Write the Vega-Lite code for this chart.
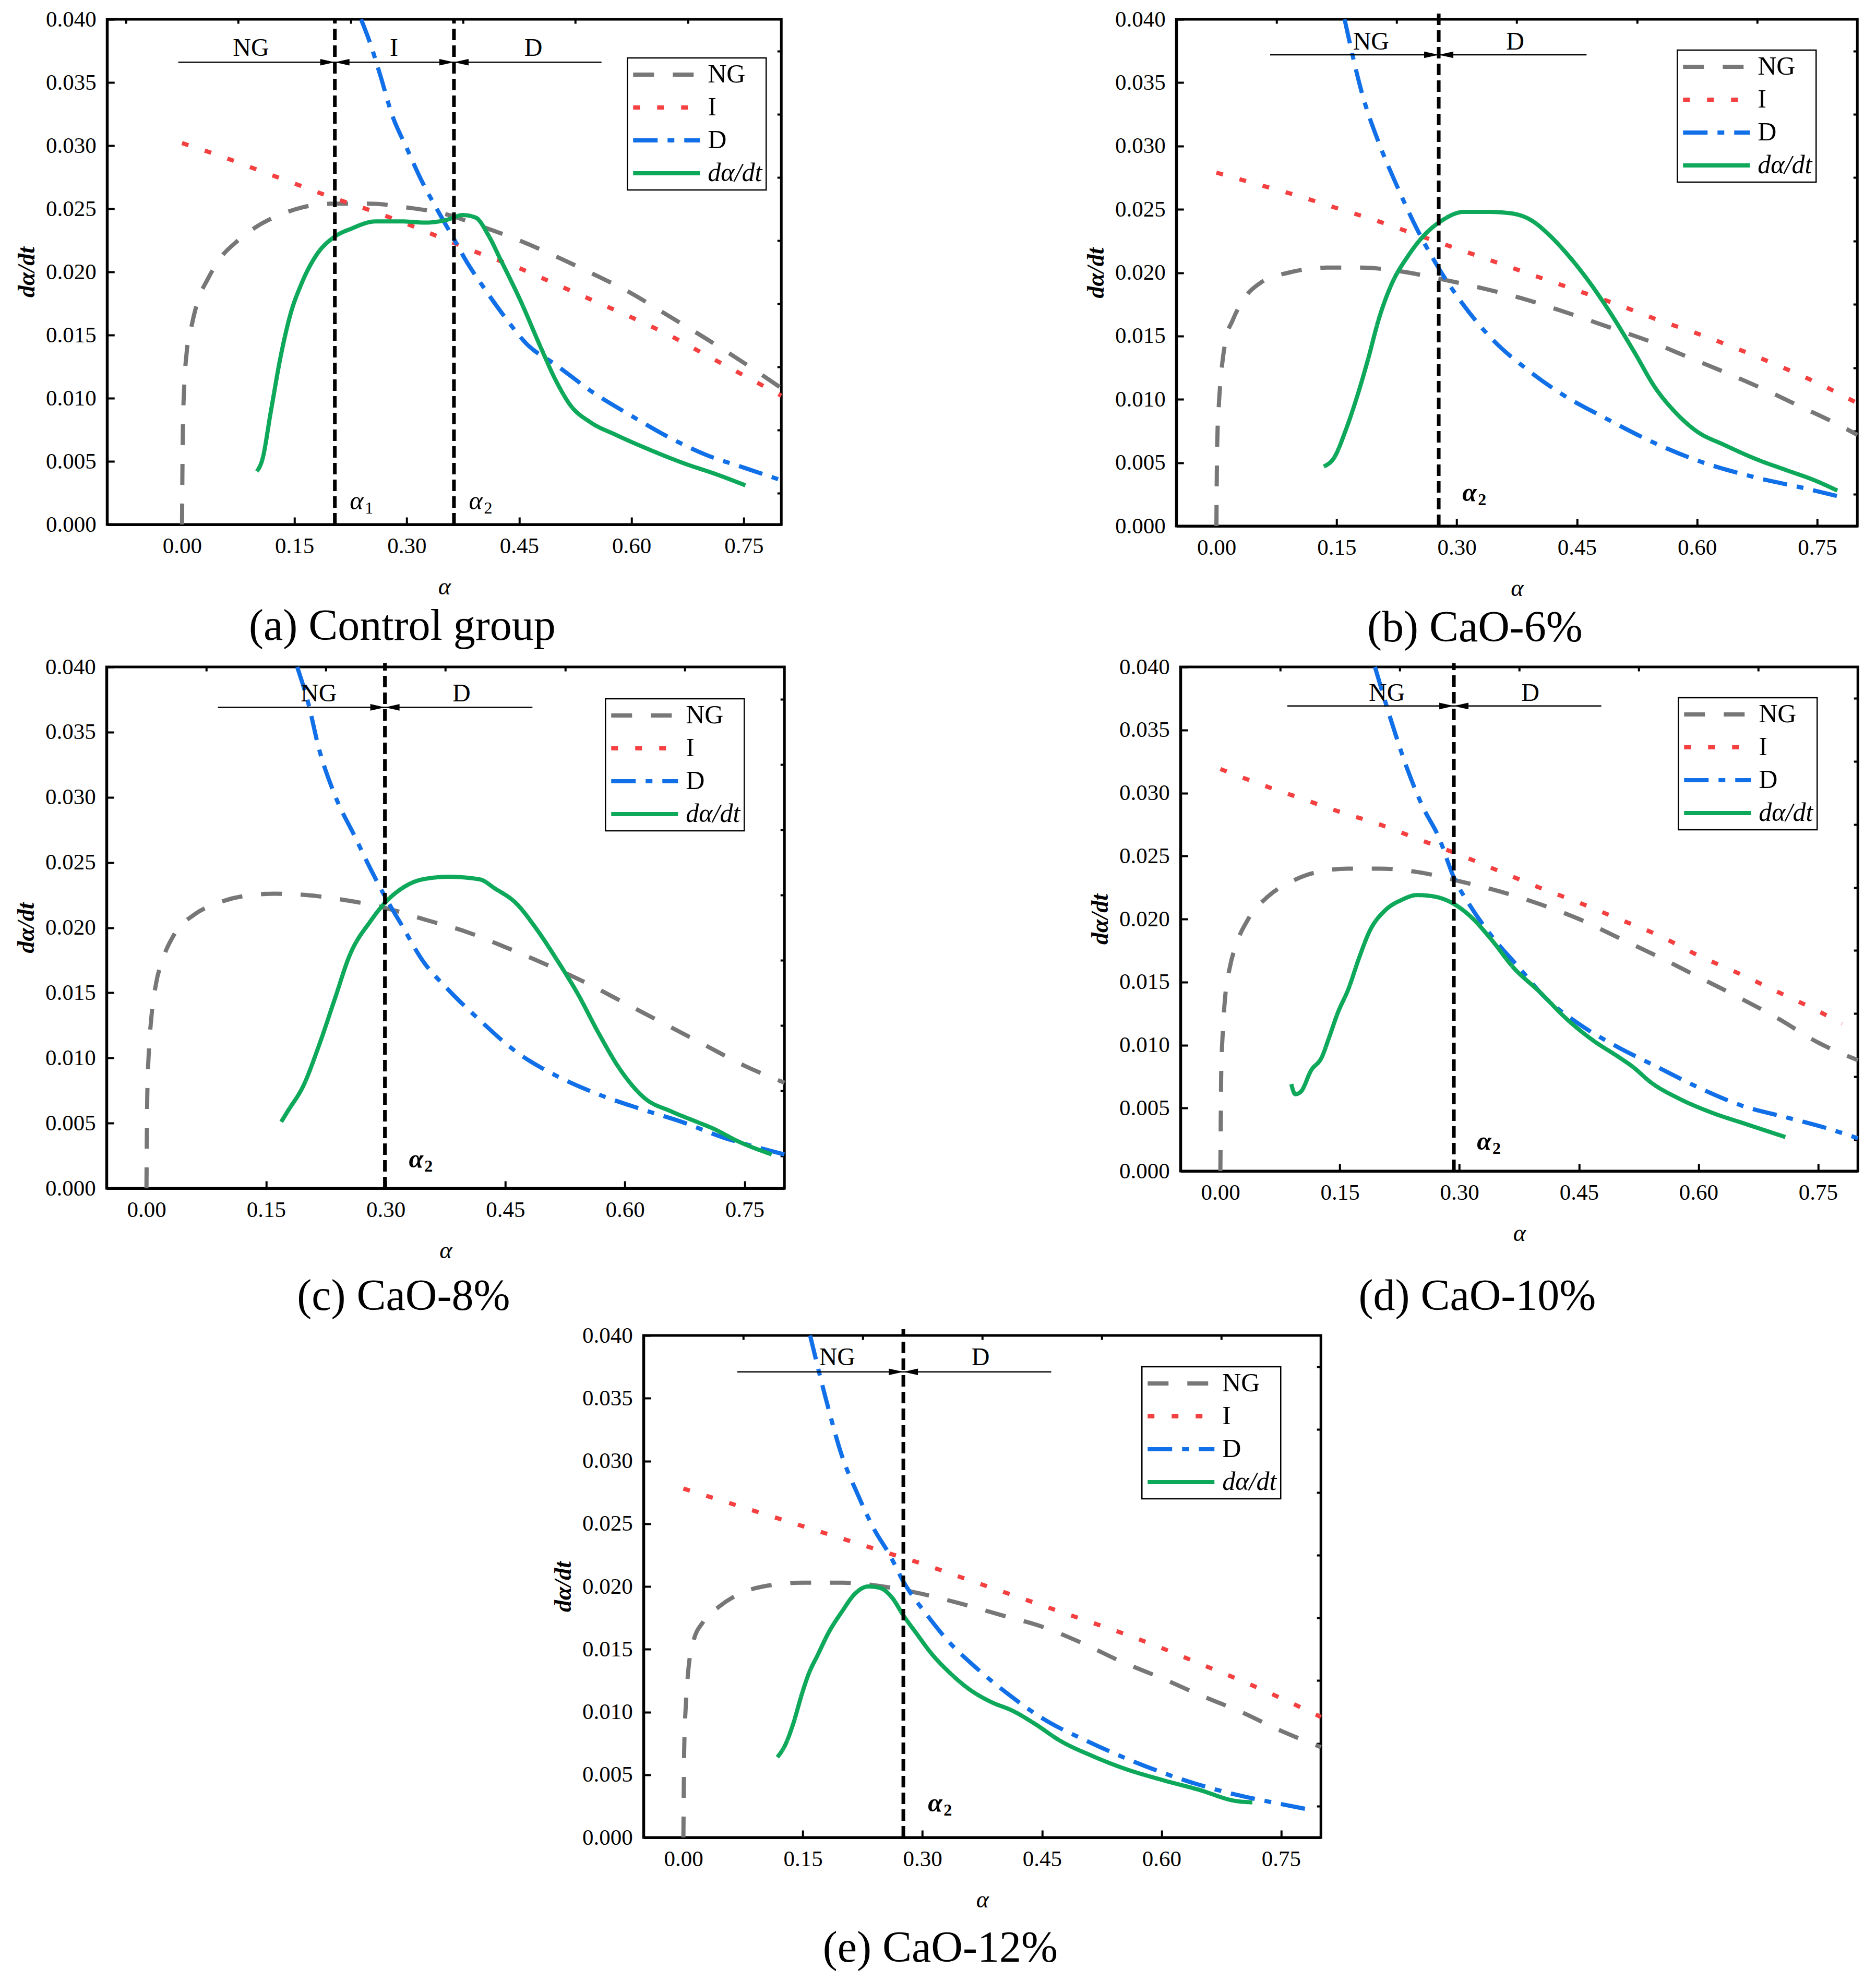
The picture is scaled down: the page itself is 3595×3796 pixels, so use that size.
{
"$schema": "https://vega.github.io/schema/vega-lite/v6.json",
"background": "white",
"padding": {"left": 25, "top": 13, "right": 5, "bottom": 5},
"datasets": {
"curves": [
{"p":"a","s":"NG","x":0,"y":0},{"p":"a","s":"NG","x":0.0005,"y":0.004},{"p":"a","s":"NG","x":0.001,"y":0.007},{"p":"a","s":"NG","x":0.003,"y":0.011},{"p":"a","s":"NG","x":0.006,"y":0.0135},{"p":"a","s":"NG","x":0.012,"y":0.0155},{"p":"a","s":"NG","x":0.02,"y":0.0175},{"p":"a","s":"NG","x":0.035,"y":0.0195},{"p":"a","s":"NG","x":0.05,"y":0.021},{"p":"a","s":"NG","x":0.075,"y":0.0225},{"p":"a","s":"NG","x":0.1,"y":0.0236},{"p":"a","s":"NG","x":0.13,"y":0.0245},{"p":"a","s":"NG","x":0.16,"y":0.0251},{"p":"a","s":"NG","x":0.2,"y":0.0254},{"p":"a","s":"NG","x":0.25,"y":0.0254},{"p":"a","s":"NG","x":0.3,"y":0.0251},{"p":"a","s":"NG","x":0.35,"y":0.0246},{"p":"a","s":"NG","x":0.4,"y":0.0236},{"p":"a","s":"NG","x":0.45,"y":0.0225},{"p":"a","s":"NG","x":0.5,"y":0.0212},{"p":"a","s":"NG","x":0.55,"y":0.0198},{"p":"a","s":"NG","x":0.6,"y":0.0183},{"p":"a","s":"NG","x":0.65,"y":0.0165},{"p":"a","s":"NG","x":0.7,"y":0.0147},{"p":"a","s":"NG","x":0.75,"y":0.0128},{"p":"a","s":"NG","x":0.8,"y":0.0108},
{"p":"a","s":"I","x":0,"y":0.0302},{"p":"a","s":"I","x":0.05,"y":0.0292},{"p":"a","s":"I","x":0.1,"y":0.0281},{"p":"a","s":"I","x":0.15,"y":0.027},{"p":"a","s":"I","x":0.2,"y":0.0259},{"p":"a","s":"I","x":0.25,"y":0.0249},{"p":"a","s":"I","x":0.3,"y":0.0238},{"p":"a","s":"I","x":0.35,"y":0.0226},{"p":"a","s":"I","x":0.4,"y":0.0214},{"p":"a","s":"I","x":0.45,"y":0.0203},{"p":"a","s":"I","x":0.5,"y":0.019},{"p":"a","s":"I","x":0.55,"y":0.0177},{"p":"a","s":"I","x":0.6,"y":0.0164},{"p":"a","s":"I","x":0.65,"y":0.015},{"p":"a","s":"I","x":0.7,"y":0.0134},{"p":"a","s":"I","x":0.75,"y":0.0118},{"p":"a","s":"I","x":0.8,"y":0.0102},
{"p":"a","s":"D","x":0.239,"y":0.04},{"p":"a","s":"D","x":0.25,"y":0.0383},{"p":"a","s":"D","x":0.265,"y":0.0355},{"p":"a","s":"D","x":0.28,"y":0.0325},{"p":"a","s":"D","x":0.3,"y":0.0298},{"p":"a","s":"D","x":0.32,"y":0.0272},{"p":"a","s":"D","x":0.34,"y":0.025},{"p":"a","s":"D","x":0.363,"y":0.0226},{"p":"a","s":"D","x":0.38,"y":0.0208},{"p":"a","s":"D","x":0.4,"y":0.019},{"p":"a","s":"D","x":0.43,"y":0.0165},{"p":"a","s":"D","x":0.46,"y":0.0143},{"p":"a","s":"D","x":0.5,"y":0.0126},{"p":"a","s":"D","x":0.55,"y":0.0104},{"p":"a","s":"D","x":0.6,"y":0.0086},{"p":"a","s":"D","x":0.65,"y":0.0069},{"p":"a","s":"D","x":0.7,"y":0.0055},{"p":"a","s":"D","x":0.75,"y":0.0045},{"p":"a","s":"D","x":0.8,"y":0.0035},
{"p":"a","s":"dα/dt","x":0.1,"y":0.0042},{"p":"a","s":"dα/dt","x":0.107,"y":0.0051},{"p":"a","s":"dα/dt","x":0.119,"y":0.0091},{"p":"a","s":"dα/dt","x":0.132,"y":0.0134},{"p":"a","s":"dα/dt","x":0.145,"y":0.0167},{"p":"a","s":"dα/dt","x":0.159,"y":0.019},{"p":"a","s":"dα/dt","x":0.179,"y":0.0213},{"p":"a","s":"dα/dt","x":0.204,"y":0.0228},{"p":"a","s":"dα/dt","x":0.225,"y":0.0234},{"p":"a","s":"dα/dt","x":0.259,"y":0.024},{"p":"a","s":"dα/dt","x":0.292,"y":0.024},{"p":"a","s":"dα/dt","x":0.325,"y":0.0239},{"p":"a","s":"dα/dt","x":0.352,"y":0.0241},{"p":"a","s":"dα/dt","x":0.375,"y":0.0245},{"p":"a","s":"dα/dt","x":0.392,"y":0.0243},{"p":"a","s":"dα/dt","x":0.409,"y":0.0229},{"p":"a","s":"dα/dt","x":0.425,"y":0.021},{"p":"a","s":"dα/dt","x":0.452,"y":0.0177},{"p":"a","s":"dα/dt","x":0.479,"y":0.014},{"p":"a","s":"dα/dt","x":0.499,"y":0.0114},{"p":"a","s":"dα/dt","x":0.519,"y":0.0094},{"p":"a","s":"dα/dt","x":0.545,"y":0.0081},{"p":"a","s":"dα/dt","x":0.579,"y":0.0071},{"p":"a","s":"dα/dt","x":0.625,"y":0.0059},{"p":"a","s":"dα/dt","x":0.672,"y":0.0048},{"p":"a","s":"dα/dt","x":0.712,"y":0.004},{"p":"a","s":"dα/dt","x":0.752,"y":0.0031},

{"p":"b","s":"NG","x":0,"y":0},{"p":"b","s":"NG","x":0.0005,"y":0.004},{"p":"b","s":"NG","x":0.001,"y":0.0065},{"p":"b","s":"NG","x":0.003,"y":0.0095},{"p":"b","s":"NG","x":0.006,"y":0.012},{"p":"b","s":"NG","x":0.012,"y":0.0148},{"p":"b","s":"NG","x":0.02,"y":0.0162},{"p":"b","s":"NG","x":0.035,"y":0.018},{"p":"b","s":"NG","x":0.055,"y":0.0192},{"p":"b","s":"NG","x":0.09,"y":0.02},{"p":"b","s":"NG","x":0.14,"y":0.0204},{"p":"b","s":"NG","x":0.18,"y":0.0204},{"p":"b","s":"NG","x":0.23,"y":0.0201},{"p":"b","s":"NG","x":0.28,"y":0.0195},{"p":"b","s":"NG","x":0.33,"y":0.0188},{"p":"b","s":"NG","x":0.38,"y":0.018},{"p":"b","s":"NG","x":0.43,"y":0.017},{"p":"b","s":"NG","x":0.49,"y":0.0157},{"p":"b","s":"NG","x":0.54,"y":0.0146},{"p":"b","s":"NG","x":0.59,"y":0.0133},{"p":"b","s":"NG","x":0.64,"y":0.012},{"p":"b","s":"NG","x":0.69,"y":0.0106},{"p":"b","s":"NG","x":0.73,"y":0.0094},{"p":"b","s":"NG","x":0.77,"y":0.0082},{"p":"b","s":"NG","x":0.8,"y":0.0072},
{"p":"b","s":"I","x":0,"y":0.0279},{"p":"b","s":"I","x":0.05,"y":0.027},{"p":"b","s":"I","x":0.1,"y":0.0261},{"p":"b","s":"I","x":0.15,"y":0.0251},{"p":"b","s":"I","x":0.2,"y":0.0241},{"p":"b","s":"I","x":0.25,"y":0.023},{"p":"b","s":"I","x":0.3,"y":0.0219},{"p":"b","s":"I","x":0.35,"y":0.0208},{"p":"b","s":"I","x":0.4,"y":0.0197},{"p":"b","s":"I","x":0.45,"y":0.0186},{"p":"b","s":"I","x":0.5,"y":0.0175},{"p":"b","s":"I","x":0.55,"y":0.0163},{"p":"b","s":"I","x":0.6,"y":0.0152},{"p":"b","s":"I","x":0.65,"y":0.014},{"p":"b","s":"I","x":0.7,"y":0.0127},{"p":"b","s":"I","x":0.75,"y":0.0113},{"p":"b","s":"I","x":0.8,"y":0.0097},
{"p":"b","s":"D","x":0.16,"y":0.04},{"p":"b","s":"D","x":0.182,"y":0.0341},{"p":"b","s":"D","x":0.203,"y":0.0302},{"p":"b","s":"D","x":0.225,"y":0.0269},{"p":"b","s":"D","x":0.246,"y":0.024},{"p":"b","s":"D","x":0.278,"y":0.0203},{"p":"b","s":"D","x":0.309,"y":0.0174},{"p":"b","s":"D","x":0.345,"y":0.0147},{"p":"b","s":"D","x":0.387,"y":0.0124},{"p":"b","s":"D","x":0.429,"y":0.0105},{"p":"b","s":"D","x":0.486,"y":0.0085},{"p":"b","s":"D","x":0.542,"y":0.0067},{"p":"b","s":"D","x":0.599,"y":0.0052},{"p":"b","s":"D","x":0.669,"y":0.0039},{"p":"b","s":"D","x":0.74,"y":0.0029},{"p":"b","s":"D","x":0.786,"y":0.0022},
{"p":"b","s":"dα/dt","x":0.134,"y":0.0047},{"p":"b","s":"dα/dt","x":0.147,"y":0.0054},{"p":"b","s":"dα/dt","x":0.161,"y":0.0075},{"p":"b","s":"dα/dt","x":0.175,"y":0.0101},{"p":"b","s":"dα/dt","x":0.189,"y":0.0131},{"p":"b","s":"dα/dt","x":0.203,"y":0.0164},{"p":"b","s":"dα/dt","x":0.218,"y":0.019},{"p":"b","s":"dα/dt","x":0.239,"y":0.0213},{"p":"b","s":"dα/dt","x":0.26,"y":0.023},{"p":"b","s":"dα/dt","x":0.281,"y":0.0241},{"p":"b","s":"dα/dt","x":0.309,"y":0.0248},{"p":"b","s":"dα/dt","x":0.338,"y":0.0248},{"p":"b","s":"dα/dt","x":0.366,"y":0.0247},{"p":"b","s":"dα/dt","x":0.394,"y":0.0241},{"p":"b","s":"dα/dt","x":0.415,"y":0.023},{"p":"b","s":"dα/dt","x":0.436,"y":0.0216},{"p":"b","s":"dα/dt","x":0.465,"y":0.0193},{"p":"b","s":"dα/dt","x":0.493,"y":0.0167},{"p":"b","s":"dα/dt","x":0.521,"y":0.0138},{"p":"b","s":"dα/dt","x":0.549,"y":0.0108},{"p":"b","s":"dα/dt","x":0.571,"y":0.0091},{"p":"b","s":"dα/dt","x":0.599,"y":0.0075},{"p":"b","s":"dα/dt","x":0.634,"y":0.0064},{"p":"b","s":"dα/dt","x":0.677,"y":0.0052},{"p":"b","s":"dα/dt","x":0.712,"y":0.0044},{"p":"b","s":"dα/dt","x":0.747,"y":0.0036},{"p":"b","s":"dα/dt","x":0.775,"y":0.0028},

{"p":"c","s":"NG","x":0,"y":0},{"p":"c","s":"NG","x":0.0005,"y":0.004},{"p":"c","s":"NG","x":0.001,"y":0.007},{"p":"c","s":"NG","x":0.003,"y":0.0105},{"p":"c","s":"NG","x":0.006,"y":0.013},{"p":"c","s":"NG","x":0.012,"y":0.0157},{"p":"c","s":"NG","x":0.02,"y":0.0175},{"p":"c","s":"NG","x":0.035,"y":0.0195},{"p":"c","s":"NG","x":0.06,"y":0.021},{"p":"c","s":"NG","x":0.09,"y":0.0219},{"p":"c","s":"NG","x":0.12,"y":0.0224},{"p":"c","s":"NG","x":0.16,"y":0.0226},{"p":"c","s":"NG","x":0.2,"y":0.0225},{"p":"c","s":"NG","x":0.25,"y":0.0221},{"p":"c","s":"NG","x":0.3,"y":0.0215},{"p":"c","s":"NG","x":0.35,"y":0.0206},{"p":"c","s":"NG","x":0.4,"y":0.0197},{"p":"c","s":"NG","x":0.45,"y":0.0185},{"p":"c","s":"NG","x":0.5,"y":0.0172},{"p":"c","s":"NG","x":0.55,"y":0.0158},{"p":"c","s":"NG","x":0.6,"y":0.0142},{"p":"c","s":"NG","x":0.65,"y":0.0126},{"p":"c","s":"NG","x":0.7,"y":0.011},{"p":"c","s":"NG","x":0.75,"y":0.0094},{"p":"c","s":"NG","x":0.8,"y":0.0081},
{"p":"c","s":"D","x":0.189,"y":0.04},{"p":"c","s":"D","x":0.203,"y":0.0372},{"p":"c","s":"D","x":0.216,"y":0.0338},{"p":"c","s":"D","x":0.236,"y":0.0302},{"p":"c","s":"D","x":0.262,"y":0.0269},{"p":"c","s":"D","x":0.281,"y":0.0245},{"p":"c","s":"D","x":0.299,"y":0.0224},{"p":"c","s":"D","x":0.32,"y":0.0202},{"p":"c","s":"D","x":0.346,"y":0.0175},{"p":"c","s":"D","x":0.379,"y":0.0152},{"p":"c","s":"D","x":0.418,"y":0.0129},{"p":"c","s":"D","x":0.463,"y":0.0105},{"p":"c","s":"D","x":0.515,"y":0.0086},{"p":"c","s":"D","x":0.567,"y":0.0072},{"p":"c","s":"D","x":0.619,"y":0.0061},{"p":"c","s":"D","x":0.671,"y":0.0051},{"p":"c","s":"D","x":0.723,"y":0.0039},{"p":"c","s":"D","x":0.781,"y":0.0029},{"p":"c","s":"D","x":0.8,"y":0.0026},
{"p":"c","s":"dα/dt","x":0.169,"y":0.0051},{"p":"c","s":"dα/dt","x":0.177,"y":0.0059},{"p":"c","s":"dα/dt","x":0.197,"y":0.0079},{"p":"c","s":"dα/dt","x":0.216,"y":0.0109},{"p":"c","s":"dα/dt","x":0.236,"y":0.0145},{"p":"c","s":"dα/dt","x":0.255,"y":0.0179},{"p":"c","s":"dα/dt","x":0.281,"y":0.0205},{"p":"c","s":"dα/dt","x":0.299,"y":0.0219},{"p":"c","s":"dα/dt","x":0.32,"y":0.023},{"p":"c","s":"dα/dt","x":0.346,"y":0.0237},{"p":"c","s":"dα/dt","x":0.379,"y":0.0239},{"p":"c","s":"dα/dt","x":0.418,"y":0.0237},{"p":"c","s":"dα/dt","x":0.437,"y":0.023},{"p":"c","s":"dα/dt","x":0.463,"y":0.0219},{"p":"c","s":"dα/dt","x":0.489,"y":0.0199},{"p":"c","s":"dα/dt","x":0.515,"y":0.0175},{"p":"c","s":"dα/dt","x":0.541,"y":0.0149},{"p":"c","s":"dα/dt","x":0.567,"y":0.0119},{"p":"c","s":"dα/dt","x":0.593,"y":0.0092},{"p":"c","s":"dα/dt","x":0.625,"y":0.0069},{"p":"c","s":"dα/dt","x":0.658,"y":0.0059},{"p":"c","s":"dα/dt","x":0.69,"y":0.0051},{"p":"c","s":"dα/dt","x":0.71,"y":0.0046},{"p":"c","s":"dα/dt","x":0.742,"y":0.0036},{"p":"c","s":"dα/dt","x":0.784,"y":0.0026},

{"p":"d","s":"NG","x":0,"y":0},{"p":"d","s":"NG","x":0.0005,"y":0.004},{"p":"d","s":"NG","x":0.001,"y":0.0075},{"p":"d","s":"NG","x":0.003,"y":0.011},{"p":"d","s":"NG","x":0.006,"y":0.0138},{"p":"d","s":"NG","x":0.012,"y":0.0162},{"p":"d","s":"NG","x":0.02,"y":0.018},{"p":"d","s":"NG","x":0.035,"y":0.02},{"p":"d","s":"NG","x":0.06,"y":0.0218},{"p":"d","s":"NG","x":0.09,"y":0.023},{"p":"d","s":"NG","x":0.12,"y":0.0237},{"p":"d","s":"NG","x":0.16,"y":0.024},{"p":"d","s":"NG","x":0.2,"y":0.024},{"p":"d","s":"NG","x":0.25,"y":0.0237},{"p":"d","s":"NG","x":0.3,"y":0.023},{"p":"d","s":"NG","x":0.35,"y":0.0222},{"p":"d","s":"NG","x":0.4,"y":0.0212},{"p":"d","s":"NG","x":0.45,"y":0.02},{"p":"d","s":"NG","x":0.5,"y":0.0185},{"p":"d","s":"NG","x":0.55,"y":0.017},{"p":"d","s":"NG","x":0.6,"y":0.0154},{"p":"d","s":"NG","x":0.65,"y":0.0138},{"p":"d","s":"NG","x":0.7,"y":0.0121},{"p":"d","s":"NG","x":0.75,"y":0.0102},{"p":"d","s":"NG","x":0.8,"y":0.0088},
{"p":"d","s":"I","x":0,"y":0.0319},{"p":"d","s":"I","x":0.05,"y":0.0307},{"p":"d","s":"I","x":0.1,"y":0.0296},{"p":"d","s":"I","x":0.15,"y":0.0285},{"p":"d","s":"I","x":0.2,"y":0.0275},{"p":"d","s":"I","x":0.25,"y":0.0263},{"p":"d","s":"I","x":0.3,"y":0.0251},{"p":"d","s":"I","x":0.35,"y":0.0238},{"p":"d","s":"I","x":0.4,"y":0.0225},{"p":"d","s":"I","x":0.45,"y":0.0213},{"p":"d","s":"I","x":0.5,"y":0.02},{"p":"d","s":"I","x":0.55,"y":0.0187},{"p":"d","s":"I","x":0.6,"y":0.0171},{"p":"d","s":"I","x":0.65,"y":0.0157},{"p":"d","s":"I","x":0.7,"y":0.0142},{"p":"d","s":"I","x":0.75,"y":0.0127},{"p":"d","s":"I","x":0.78,"y":0.0117},
{"p":"d","s":"D","x":0.194,"y":0.04},{"p":"d","s":"D","x":0.214,"y":0.0358},{"p":"d","s":"D","x":0.234,"y":0.032},{"p":"d","s":"D","x":0.254,"y":0.0289},{"p":"d","s":"D","x":0.274,"y":0.0265},{"p":"d","s":"D","x":0.293,"y":0.0233},{"p":"d","s":"D","x":0.314,"y":0.021},{"p":"d","s":"D","x":0.341,"y":0.0186},{"p":"d","s":"D","x":0.374,"y":0.0162},{"p":"d","s":"D","x":0.407,"y":0.0138},{"p":"d","s":"D","x":0.447,"y":0.0118},{"p":"d","s":"D","x":0.494,"y":0.01},{"p":"d","s":"D","x":0.547,"y":0.0083},{"p":"d","s":"D","x":0.601,"y":0.0066},{"p":"d","s":"D","x":0.654,"y":0.0052},{"p":"d","s":"D","x":0.714,"y":0.0042},{"p":"d","s":"D","x":0.761,"y":0.0034},{"p":"d","s":"D","x":0.8,"y":0.0026},
{"p":"d","s":"dα/dt","x":0.089,"y":0.0069},{"p":"d","s":"dα/dt","x":0.094,"y":0.0061},{"p":"d","s":"dα/dt","x":0.101,"y":0.0063},{"p":"d","s":"dα/dt","x":0.114,"y":0.008},{"p":"d","s":"dα/dt","x":0.127,"y":0.009},{"p":"d","s":"dα/dt","x":0.137,"y":0.0107},{"p":"d","s":"dα/dt","x":0.147,"y":0.0125},{"p":"d","s":"dα/dt","x":0.161,"y":0.0145},{"p":"d","s":"dα/dt","x":0.174,"y":0.0169},{"p":"d","s":"dα/dt","x":0.187,"y":0.019},{"p":"d","s":"dα/dt","x":0.207,"y":0.0207},{"p":"d","s":"dα/dt","x":0.227,"y":0.0215},{"p":"d","s":"dα/dt","x":0.247,"y":0.0219},{"p":"d","s":"dα/dt","x":0.267,"y":0.0218},{"p":"d","s":"dα/dt","x":0.293,"y":0.0212},{"p":"d","s":"dα/dt","x":0.314,"y":0.0202},{"p":"d","s":"dα/dt","x":0.341,"y":0.0183},{"p":"d","s":"dα/dt","x":0.367,"y":0.0162},{"p":"d","s":"dα/dt","x":0.401,"y":0.0142},{"p":"d","s":"dα/dt","x":0.434,"y":0.0121},{"p":"d","s":"dα/dt","x":0.467,"y":0.0104},{"p":"d","s":"dα/dt","x":0.501,"y":0.009},{"p":"d","s":"dα/dt","x":0.517,"y":0.0083},{"p":"d","s":"dα/dt","x":0.541,"y":0.007},{"p":"d","s":"dα/dt","x":0.574,"y":0.0058},{"p":"d","s":"dα/dt","x":0.614,"y":0.0047},{"p":"d","s":"dα/dt","x":0.661,"y":0.0037},{"p":"d","s":"dα/dt","x":0.709,"y":0.0027},

{"p":"e","s":"NG","x":0,"y":0},{"p":"e","s":"NG","x":0.0005,"y":0.004},{"p":"e","s":"NG","x":0.001,"y":0.007},{"p":"e","s":"NG","x":0.003,"y":0.0105},{"p":"e","s":"NG","x":0.006,"y":0.0132},{"p":"e","s":"NG","x":0.012,"y":0.0155},{"p":"e","s":"NG","x":0.025,"y":0.0172},{"p":"e","s":"NG","x":0.045,"y":0.0184},{"p":"e","s":"NG","x":0.07,"y":0.0194},{"p":"e","s":"NG","x":0.1,"y":0.02},{"p":"e","s":"NG","x":0.15,"y":0.0203},{"p":"e","s":"NG","x":0.2,"y":0.0203},{"p":"e","s":"NG","x":0.25,"y":0.02},{"p":"e","s":"NG","x":0.3,"y":0.0194},{"p":"e","s":"NG","x":0.35,"y":0.0186},{"p":"e","s":"NG","x":0.4,"y":0.0177},{"p":"e","s":"NG","x":0.45,"y":0.0168},{"p":"e","s":"NG","x":0.5,"y":0.0155},{"p":"e","s":"NG","x":0.55,"y":0.014},{"p":"e","s":"NG","x":0.6,"y":0.0127},{"p":"e","s":"NG","x":0.65,"y":0.0113},{"p":"e","s":"NG","x":0.7,"y":0.01},{"p":"e","s":"NG","x":0.75,"y":0.0085},{"p":"e","s":"NG","x":0.8,"y":0.0072},
{"p":"e","s":"I","x":0,"y":0.0278},{"p":"e","s":"I","x":0.05,"y":0.0268},{"p":"e","s":"I","x":0.1,"y":0.0258},{"p":"e","s":"I","x":0.15,"y":0.0248},{"p":"e","s":"I","x":0.2,"y":0.0238},{"p":"e","s":"I","x":0.25,"y":0.0228},{"p":"e","s":"I","x":0.3,"y":0.0218},{"p":"e","s":"I","x":0.35,"y":0.0207},{"p":"e","s":"I","x":0.4,"y":0.0196},{"p":"e","s":"I","x":0.45,"y":0.0185},{"p":"e","s":"I","x":0.5,"y":0.0174},{"p":"e","s":"I","x":0.55,"y":0.0163},{"p":"e","s":"I","x":0.6,"y":0.0151},{"p":"e","s":"I","x":0.65,"y":0.0138},{"p":"e","s":"I","x":0.7,"y":0.0125},{"p":"e","s":"I","x":0.75,"y":0.0111},{"p":"e","s":"I","x":0.8,"y":0.0096},
{"p":"e","s":"D","x":0.159,"y":0.04},{"p":"e","s":"D","x":0.179,"y":0.0349},{"p":"e","s":"D","x":0.199,"y":0.0304},{"p":"e","s":"D","x":0.219,"y":0.0273},{"p":"e","s":"D","x":0.239,"y":0.0246},{"p":"e","s":"D","x":0.259,"y":0.0225},{"p":"e","s":"D","x":0.276,"y":0.0204},{"p":"e","s":"D","x":0.306,"y":0.0177},{"p":"e","s":"D","x":0.333,"y":0.0156},{"p":"e","s":"D","x":0.366,"y":0.0136},{"p":"e","s":"D","x":0.406,"y":0.0115},{"p":"e","s":"D","x":0.453,"y":0.0094},{"p":"e","s":"D","x":0.506,"y":0.0077},{"p":"e","s":"D","x":0.567,"y":0.006},{"p":"e","s":"D","x":0.627,"y":0.0046},{"p":"e","s":"D","x":0.694,"y":0.0034},{"p":"e","s":"D","x":0.747,"y":0.0027},{"p":"e","s":"D","x":0.787,"y":0.0022},
{"p":"e","s":"dα/dt","x":0.118,"y":0.0064},{"p":"e","s":"dα/dt","x":0.128,"y":0.0074},{"p":"e","s":"dα/dt","x":0.138,"y":0.0091},{"p":"e","s":"dα/dt","x":0.149,"y":0.0115},{"p":"e","s":"dα/dt","x":0.157,"y":0.013},{"p":"e","s":"dα/dt","x":0.169,"y":0.0146},{"p":"e","s":"dα/dt","x":0.182,"y":0.0163},{"p":"e","s":"dα/dt","x":0.199,"y":0.018},{"p":"e","s":"dα/dt","x":0.215,"y":0.0194},{"p":"e","s":"dα/dt","x":0.232,"y":0.02},{"p":"e","s":"dα/dt","x":0.246,"y":0.0199},{"p":"e","s":"dα/dt","x":0.262,"y":0.0191},{"p":"e","s":"dα/dt","x":0.276,"y":0.0177},{"p":"e","s":"dα/dt","x":0.292,"y":0.0163},{"p":"e","s":"dα/dt","x":0.312,"y":0.0146},{"p":"e","s":"dα/dt","x":0.333,"y":0.0132},{"p":"e","s":"dα/dt","x":0.359,"y":0.0118},{"p":"e","s":"dα/dt","x":0.386,"y":0.0108},{"p":"e","s":"dα/dt","x":0.413,"y":0.0101},{"p":"e","s":"dα/dt","x":0.44,"y":0.0091},{"p":"e","s":"dα/dt","x":0.473,"y":0.0077},{"p":"e","s":"dα/dt","x":0.513,"y":0.0065},{"p":"e","s":"dα/dt","x":0.553,"y":0.0055},{"p":"e","s":"dα/dt","x":0.6,"y":0.0046},{"p":"e","s":"dα/dt","x":0.647,"y":0.0038},{"p":"e","s":"dα/dt","x":0.694,"y":0.0029},{"p":"e","s":"dα/dt","x":0.714,"y":0.0028}
],
"bounds": [
{"p":"a","x":0.204,"y0":0,"y1":0.04,"ya":0.0366},{"p":"a","x":0.363,"y0":0,"y1":0.04,"ya":0.0366},
{"p":"b","x":0.2775,"y0":0,"y1":0.0405,"ya":0.0372},
{"p":"c","x":0.299,"y0":0,"y1":0.0403,"ya":0.0369},
{"p":"d","x":0.293,"y0":0,"y1":0.0403,"ya":0.0369},
{"p":"e","x":0.276,"y0":0,"y1":0.0405,"ya":0.0371}
],
"spans": [
{"p":"a","x1":-0.005,"x2":0.56,"y":0.0366},
{"p":"b","x1":0.067,"x2":0.462,"y":0.0372},
{"p":"c","x1":0.0896,"x2":0.484,"y":0.0369},
{"p":"d","x1":0.084,"x2":0.478,"y":0.0369},
{"p":"e","x1":0.0676,"x2":0.4616,"y":0.0371}
],
"labels": [
{"p":"a","t":"NG","x":0.092,"y":0.0377},{"p":"a","t":"I","x":0.283,"y":0.0377},{"p":"a","t":"D","x":0.469,"y":0.0377},
{"p":"b","t":"NG","x":0.193,"y":0.0382},{"p":"b","t":"D","x":0.373,"y":0.0382},
{"p":"c","t":"NG","x":0.216,"y":0.0379},{"p":"c","t":"D","x":0.395,"y":0.0379},
{"p":"d","t":"NG","x":0.209,"y":0.0379},{"p":"d","t":"D","x":0.389,"y":0.0379},
{"p":"e","t":"NG","x":0.193,"y":0.0382},{"p":"e","t":"D","x":0.373,"y":0.0382}
],
"alphas": [
{"p":"a","t":"α","sub":"1","x":0.233,"y":0.0018},{"p":"a","t":"α","sub":"2","x":0.392,"y":0.0018},
{"p":"b","t":"α","sub":"2","x":0.316,"y":0.0026},
{"p":"c","t":"α","sub":"2","x":0.338,"y":0.0022},
{"p":"d","t":"α","sub":"2","x":0.331,"y":0.0023},
{"p":"e","t":"α","sub":"2","x":0.316,"y":0.0027}
]
},
"vconcat": [
{"hconcat": [
{"width": 1292, "height": 968, "title": {"text": "(a) Control group", "offset": 13},
 "resolve": {"axis": {"x": "independent", "y": "independent"}},
 "layer": [
  {"data": {"name": "curves"}, "transform": [{"filter": "datum.p == 'a'"}],
   "mark": {"type": "line", "strokeWidth": 8, "interpolate": "monotone"},
   "encoding": {
    "x": {"field": "x", "type": "quantitative", "scale": {"domain": [-0.1, 0.8], "nice": false, "zero": false}, "axis": {"values": [0,0.15,0.3,0.45,0.6,0.75], "format": ".2f", "tickSize": -14, "labelPadding": 34, "labelFont": "Liberation Serif", "title": "α", "titlePadding": 34}},
    "y": {"field": "y", "type": "quantitative", "scale": {"domain": [0, 0.04], "nice": false, "zero": false}, "axis": {"values": [0,0.005,0.01,0.015,0.02,0.025,0.03,0.035,0.04], "format": ".3f", "tickSize": -14, "labelPadding": 35, "labelFont": "Liberation Serif", "title": "dα/dt", "titleFontWeight": "bold", "titlePadding": 12}},
    "color": {"field": "s", "type": "nominal", "scale": {"domain": ["NG","I","D","dα/dt"], "range": ["#777777","#F44040","#1170E8","#0DA85A"]}, "legend": {"title": null, "orient": "none", "legendX": 997, "legendY": 74, "labelFontStyle": {"expr": "datum.label == 'dα/dt' ? 'italic' : 'normal'"}}},
    "strokeDash": {"field": "s", "type": "nominal", "scale": {"domain": ["NG","I","D","dα/dt"], "range": [[40,36],[13,33],[47,19,13,19],[1,0]]}, "legend": {"title": null, "orient": "none", "legendX": 997, "legendY": 74, "labelFontStyle": {"expr": "datum.label == 'dα/dt' ? 'italic' : 'normal'"}}}
   }},
  {"data": {"name": "bounds"}, "transform": [{"filter": "datum.p == 'a'"}],
   "mark": {"type": "rule", "color": "black", "strokeWidth": 7, "strokeDash": [22, 10]},
   "encoding": {
    "x": {"field": "x", "type": "quantitative", "scale": {"domain": [-0.1, 0.8], "nice": false, "zero": false}, "axis": {"values": [-0.075,0.075,0.225,0.375,0.525,0.675], "labels": false, "tickSize": -8, "domain": false, "title": null}},
    "y": {"field": "y0", "type": "quantitative", "scale": {"domain": [0, 0.04], "nice": false, "zero": false}, "axis": {"values": [0.0025,0.0075,0.0125,0.0175,0.0225,0.0275,0.0325,0.0375], "labels": false, "tickSize": -8, "domain": false, "title": null}},
    "y2": {"field": "y1"}
   }},
  {"data": {"name": "spans"}, "transform": [{"filter": "datum.p == 'a'"}],
   "mark": {"type": "rule", "color": "black", "strokeWidth": 2.5},
   "encoding": {"x": {"field": "x1", "type": "quantitative", "axis": null}, "x2": {"field": "x2"}, "y": {"field": "y", "type": "quantitative", "axis": null}}},
  {"data": {"name": "bounds"}, "transform": [{"filter": "datum.p == 'a'"}],
   "mark": {"type": "point", "shape": "M1,0L-1,-0.45L-1,0.45Z", "filled": true, "color": "black", "opacity": 1, "size": 784, "xOffset": -14},
   "encoding": {"x": {"field": "x", "type": "quantitative", "axis": null}, "y": {"field": "ya", "type": "quantitative", "axis": null}}},
  {"data": {"name": "bounds"}, "transform": [{"filter": "datum.p == 'a'"}],
   "mark": {"type": "point", "shape": "M-1,0L1,-0.45L1,0.45Z", "filled": true, "color": "black", "opacity": 1, "size": 784, "xOffset": 14},
   "encoding": {"x": {"field": "x", "type": "quantitative", "axis": null}, "y": {"field": "ya", "type": "quantitative", "axis": null}}},
  {"data": {"name": "labels"}, "transform": [{"filter": "datum.p == 'a'"}],
   "mark": {"type": "text", "font": "Liberation Serif", "fontSize": 48, "color": "black", "align": "center", "baseline": "middle"},
   "encoding": {"x": {"field": "x", "type": "quantitative", "axis": null}, "y": {"field": "y", "type": "quantitative", "axis": null}, "text": {"field": "t"}}},
  {"data": {"name": "alphas"}, "transform": [{"filter": "datum.p == 'a'"}],
   "mark": {"type": "text", "font": "Liberation Serif", "fontSize": 50, "fontStyle": "italic", "color": "black", "align": "center", "baseline": "middle"},
   "encoding": {"x": {"field": "x", "type": "quantitative", "axis": null}, "y": {"field": "y", "type": "quantitative", "axis": null}, "text": {"field": "t"}}},
  {"data": {"name": "alphas"}, "transform": [{"filter": "datum.p == 'a'"}],
   "mark": {"type": "text", "font": "Liberation Serif", "fontSize": 32, "color": "black", "align": "center", "baseline": "middle", "dx": 24, "dy": 13},
   "encoding": {"x": {"field": "x", "type": "quantitative", "axis": null}, "y": {"field": "y", "type": "quantitative", "axis": null}, "text": {"field": "sub"}}}
 ]},
{"width": 1305, "height": 971, "title": {"text": "(b) CaO-6%", "offset": 13},
 "resolve": {"axis": {"x": "independent", "y": "independent"}},
 "layer": [
  {"data": {"name": "curves"}, "transform": [{"filter": "datum.p == 'b'"}],
   "mark": {"type": "line", "strokeWidth": 8, "interpolate": "monotone"},
   "encoding": {
    "x": {"field": "x", "type": "quantitative", "scale": {"domain": [-0.05, 0.8], "nice": false, "zero": false}, "axis": {"values": [0,0.15,0.3,0.45,0.6,0.75], "format": ".2f", "tickSize": -14, "labelPadding": 34, "labelFont": "Liberation Serif", "title": "α", "titlePadding": 34}},
    "y": {"field": "y", "type": "quantitative", "scale": {"domain": [0, 0.04], "nice": false, "zero": false}, "axis": {"values": [0,0.005,0.01,0.015,0.02,0.025,0.03,0.035,0.04], "format": ".3f", "tickSize": -14, "labelPadding": 35, "labelFont": "Liberation Serif", "title": "dα/dt", "titleFontWeight": "bold", "titlePadding": 12}},
    "color": {"field": "s", "type": "nominal", "scale": {"domain": ["NG","I","D","dα/dt"], "range": ["#777777","#F44040","#1170E8","#0DA85A"]}, "legend": {"title": null, "orient": "none", "legendX": 960, "legendY": 59, "labelFontStyle": {"expr": "datum.label == 'dα/dt' ? 'italic' : 'normal'"}}},
    "strokeDash": {"field": "s", "type": "nominal", "scale": {"domain": ["NG","I","D","dα/dt"], "range": [[40,36],[13,33],[47,19,13,19],[1,0]]}, "legend": {"title": null, "orient": "none", "legendX": 960, "legendY": 59, "labelFontStyle": {"expr": "datum.label == 'dα/dt' ? 'italic' : 'normal'"}}}
   }},
  {"data": {"name": "bounds"}, "transform": [{"filter": "datum.p == 'b'"}],
   "mark": {"type": "rule", "color": "black", "strokeWidth": 7, "strokeDash": [22, 10]},
   "encoding": {
    "x": {"field": "x", "type": "quantitative", "scale": {"domain": [-0.05, 0.8], "nice": false, "zero": false}, "axis": {"values": [0.075,0.225,0.375,0.525,0.675], "labels": false, "tickSize": -8, "domain": false, "title": null}},
    "y": {"field": "y0", "type": "quantitative", "scale": {"domain": [0, 0.04], "nice": false, "zero": false}, "axis": {"values": [0.0025,0.0075,0.0125,0.0175,0.0225,0.0275,0.0325,0.0375], "labels": false, "tickSize": -8, "domain": false, "title": null}},
    "y2": {"field": "y1"}
   }},
  {"data": {"name": "spans"}, "transform": [{"filter": "datum.p == 'b'"}],
   "mark": {"type": "rule", "color": "black", "strokeWidth": 2.5},
   "encoding": {"x": {"field": "x1", "type": "quantitative", "axis": null}, "x2": {"field": "x2"}, "y": {"field": "y", "type": "quantitative", "axis": null}}},
  {"data": {"name": "bounds"}, "transform": [{"filter": "datum.p == 'b'"}],
   "mark": {"type": "point", "shape": "M1,0L-1,-0.45L-1,0.45Z", "filled": true, "color": "black", "opacity": 1, "size": 784, "xOffset": -14},
   "encoding": {"x": {"field": "x", "type": "quantitative", "axis": null}, "y": {"field": "ya", "type": "quantitative", "axis": null}}},
  {"data": {"name": "bounds"}, "transform": [{"filter": "datum.p == 'b'"}],
   "mark": {"type": "point", "shape": "M-1,0L1,-0.45L1,0.45Z", "filled": true, "color": "black", "opacity": 1, "size": 784, "xOffset": 14},
   "encoding": {"x": {"field": "x", "type": "quantitative", "axis": null}, "y": {"field": "ya", "type": "quantitative", "axis": null}}},
  {"data": {"name": "labels"}, "transform": [{"filter": "datum.p == 'b'"}],
   "mark": {"type": "text", "font": "Liberation Serif", "fontSize": 48, "color": "black", "align": "center", "baseline": "middle"},
   "encoding": {"x": {"field": "x", "type": "quantitative", "axis": null}, "y": {"field": "y", "type": "quantitative", "axis": null}, "text": {"field": "t"}}},
  {"data": {"name": "alphas"}, "transform": [{"filter": "datum.p == 'b'"}],
   "mark": {"type": "text", "font": "Liberation Serif", "fontSize": 50, "fontStyle": "italic", "fontWeight": "bold", "color": "black", "align": "center", "baseline": "middle"},
   "encoding": {"x": {"field": "x", "type": "quantitative", "axis": null}, "y": {"field": "y", "type": "quantitative", "axis": null}, "text": {"field": "t"}}},
  {"data": {"name": "alphas"}, "transform": [{"filter": "datum.p == 'b'"}],
   "mark": {"type": "text", "font": "Liberation Serif", "fontSize": 32, "fontWeight": "bold", "color": "black", "align": "center", "baseline": "middle", "dx": 24, "dy": 13},
   "encoding": {"x": {"field": "x", "type": "quantitative", "axis": null}, "y": {"field": "y", "type": "quantitative", "axis": null}, "text": {"field": "sub"}}}
 ]}
], "spacing": 558, "resolve": {"scale": {"color": "independent", "strokeDash": "independent"}, "legend": {"color": "independent", "strokeDash": "independent"}}},
{"hconcat": [
{"width": 1299, "height": 999, "title": {"text": "(c) CaO-8%", "offset": 25},
 "resolve": {"axis": {"x": "independent", "y": "independent"}},
 "layer": [
  {"data": {"name": "curves"}, "transform": [{"filter": "datum.p == 'c'"}],
   "mark": {"type": "line", "strokeWidth": 8, "interpolate": "monotone"},
   "encoding": {
    "x": {"field": "x", "type": "quantitative", "scale": {"domain": [-0.05, 0.8], "nice": false, "zero": false}, "axis": {"values": [0,0.15,0.3,0.45,0.6,0.75], "format": ".2f", "tickSize": -14, "labelPadding": 34, "labelFont": "Liberation Serif", "title": "α", "titlePadding": 34}},
    "y": {"field": "y", "type": "quantitative", "scale": {"domain": [0, 0.04], "nice": false, "zero": false}, "axis": {"values": [0,0.005,0.01,0.015,0.02,0.025,0.03,0.035,0.04], "format": ".3f", "tickSize": -14, "labelPadding": 35, "labelFont": "Liberation Serif", "title": "dα/dt", "titleFontWeight": "bold", "titlePadding": 12}},
    "color": {"field": "s", "type": "nominal", "scale": {"domain": ["NG","I","D","dα/dt"], "range": ["#777777","#F44040","#1170E8","#0DA85A"]}, "legend": {"title": null, "orient": "none", "legendX": 956, "legendY": 61, "labelFontStyle": {"expr": "datum.label == 'dα/dt' ? 'italic' : 'normal'"}}},
    "strokeDash": {"field": "s", "type": "nominal", "scale": {"domain": ["NG","I","D","dα/dt"], "range": [[40,36],[13,33],[47,19,13,19],[1,0]]}, "legend": {"title": null, "orient": "none", "legendX": 956, "legendY": 61, "labelFontStyle": {"expr": "datum.label == 'dα/dt' ? 'italic' : 'normal'"}}}
   }},
  {"data": {"name": "bounds"}, "transform": [{"filter": "datum.p == 'c'"}],
   "mark": {"type": "rule", "color": "black", "strokeWidth": 7, "strokeDash": [22, 10]},
   "encoding": {
    "x": {"field": "x", "type": "quantitative", "scale": {"domain": [-0.05, 0.8], "nice": false, "zero": false}, "axis": {"values": [0.075,0.225,0.375,0.525,0.675], "labels": false, "tickSize": -8, "domain": false, "title": null}},
    "y": {"field": "y0", "type": "quantitative", "scale": {"domain": [0, 0.04], "nice": false, "zero": false}, "axis": {"values": [0.0025,0.0075,0.0125,0.0175,0.0225,0.0275,0.0325,0.0375], "labels": false, "tickSize": -8, "domain": false, "title": null}},
    "y2": {"field": "y1"}
   }},
  {"data": {"name": "spans"}, "transform": [{"filter": "datum.p == 'c'"}],
   "mark": {"type": "rule", "color": "black", "strokeWidth": 2.5},
   "encoding": {"x": {"field": "x1", "type": "quantitative", "axis": null}, "x2": {"field": "x2"}, "y": {"field": "y", "type": "quantitative", "axis": null}}},
  {"data": {"name": "bounds"}, "transform": [{"filter": "datum.p == 'c'"}],
   "mark": {"type": "point", "shape": "M1,0L-1,-0.45L-1,0.45Z", "filled": true, "color": "black", "opacity": 1, "size": 784, "xOffset": -14},
   "encoding": {"x": {"field": "x", "type": "quantitative", "axis": null}, "y": {"field": "ya", "type": "quantitative", "axis": null}}},
  {"data": {"name": "bounds"}, "transform": [{"filter": "datum.p == 'c'"}],
   "mark": {"type": "point", "shape": "M-1,0L1,-0.45L1,0.45Z", "filled": true, "color": "black", "opacity": 1, "size": 784, "xOffset": 14},
   "encoding": {"x": {"field": "x", "type": "quantitative", "axis": null}, "y": {"field": "ya", "type": "quantitative", "axis": null}}},
  {"data": {"name": "labels"}, "transform": [{"filter": "datum.p == 'c'"}],
   "mark": {"type": "text", "font": "Liberation Serif", "fontSize": 48, "color": "black", "align": "center", "baseline": "middle"},
   "encoding": {"x": {"field": "x", "type": "quantitative", "axis": null}, "y": {"field": "y", "type": "quantitative", "axis": null}, "text": {"field": "t"}}},
  {"data": {"name": "alphas"}, "transform": [{"filter": "datum.p == 'c'"}],
   "mark": {"type": "text", "font": "Liberation Serif", "fontSize": 50, "fontStyle": "italic", "fontWeight": "bold", "color": "black", "align": "center", "baseline": "middle"},
   "encoding": {"x": {"field": "x", "type": "quantitative", "axis": null}, "y": {"field": "y", "type": "quantitative", "axis": null}, "text": {"field": "t"}}},
  {"data": {"name": "alphas"}, "transform": [{"filter": "datum.p == 'c'"}],
   "mark": {"type": "text", "font": "Liberation Serif", "fontSize": 32, "fontWeight": "bold", "color": "black", "align": "center", "baseline": "middle", "dx": 24, "dy": 13},
   "encoding": {"x": {"field": "x", "type": "quantitative", "axis": null}, "y": {"field": "y", "type": "quantitative", "axis": null}, "text": {"field": "sub"}}}
 ]},
{"width": 1298, "height": 966, "title": {"text": "(d) CaO-10%", "offset": 58},
 "resolve": {"axis": {"x": "independent", "y": "independent"}},
 "layer": [
  {"data": {"name": "curves"}, "transform": [{"filter": "datum.p == 'd'"}],
   "mark": {"type": "line", "strokeWidth": 8, "interpolate": "monotone"},
   "encoding": {
    "x": {"field": "x", "type": "quantitative", "scale": {"domain": [-0.05, 0.8], "nice": false, "zero": false}, "axis": {"values": [0,0.15,0.3,0.45,0.6,0.75], "format": ".2f", "tickSize": -14, "labelPadding": 34, "labelFont": "Liberation Serif", "title": "α", "titlePadding": 34}},
    "y": {"field": "y", "type": "quantitative", "scale": {"domain": [0, 0.04], "nice": false, "zero": false}, "axis": {"values": [0,0.005,0.01,0.015,0.02,0.025,0.03,0.035,0.04], "format": ".3f", "tickSize": -14, "labelPadding": 35, "labelFont": "Liberation Serif", "title": "dα/dt", "titleFontWeight": "bold", "titlePadding": 12}},
    "color": {"field": "s", "type": "nominal", "scale": {"domain": ["NG","I","D","dα/dt"], "range": ["#777777","#F44040","#1170E8","#0DA85A"]}, "legend": {"title": null, "orient": "none", "legendX": 954, "legendY": 59, "labelFontStyle": {"expr": "datum.label == 'dα/dt' ? 'italic' : 'normal'"}}},
    "strokeDash": {"field": "s", "type": "nominal", "scale": {"domain": ["NG","I","D","dα/dt"], "range": [[40,36],[13,33],[47,19,13,19],[1,0]]}, "legend": {"title": null, "orient": "none", "legendX": 954, "legendY": 59, "labelFontStyle": {"expr": "datum.label == 'dα/dt' ? 'italic' : 'normal'"}}}
   }},
  {"data": {"name": "bounds"}, "transform": [{"filter": "datum.p == 'd'"}],
   "mark": {"type": "rule", "color": "black", "strokeWidth": 7, "strokeDash": [22, 10]},
   "encoding": {
    "x": {"field": "x", "type": "quantitative", "scale": {"domain": [-0.05, 0.8], "nice": false, "zero": false}, "axis": {"values": [0.075,0.225,0.375,0.525,0.675], "labels": false, "tickSize": -8, "domain": false, "title": null}},
    "y": {"field": "y0", "type": "quantitative", "scale": {"domain": [0, 0.04], "nice": false, "zero": false}, "axis": {"values": [0.0025,0.0075,0.0125,0.0175,0.0225,0.0275,0.0325,0.0375], "labels": false, "tickSize": -8, "domain": false, "title": null}},
    "y2": {"field": "y1"}
   }},
  {"data": {"name": "spans"}, "transform": [{"filter": "datum.p == 'd'"}],
   "mark": {"type": "rule", "color": "black", "strokeWidth": 2.5},
   "encoding": {"x": {"field": "x1", "type": "quantitative", "axis": null}, "x2": {"field": "x2"}, "y": {"field": "y", "type": "quantitative", "axis": null}}},
  {"data": {"name": "bounds"}, "transform": [{"filter": "datum.p == 'd'"}],
   "mark": {"type": "point", "shape": "M1,0L-1,-0.45L-1,0.45Z", "filled": true, "color": "black", "opacity": 1, "size": 784, "xOffset": -14},
   "encoding": {"x": {"field": "x", "type": "quantitative", "axis": null}, "y": {"field": "ya", "type": "quantitative", "axis": null}}},
  {"data": {"name": "bounds"}, "transform": [{"filter": "datum.p == 'd'"}],
   "mark": {"type": "point", "shape": "M-1,0L1,-0.45L1,0.45Z", "filled": true, "color": "black", "opacity": 1, "size": 784, "xOffset": 14},
   "encoding": {"x": {"field": "x", "type": "quantitative", "axis": null}, "y": {"field": "ya", "type": "quantitative", "axis": null}}},
  {"data": {"name": "labels"}, "transform": [{"filter": "datum.p == 'd'"}],
   "mark": {"type": "text", "font": "Liberation Serif", "fontSize": 48, "color": "black", "align": "center", "baseline": "middle"},
   "encoding": {"x": {"field": "x", "type": "quantitative", "axis": null}, "y": {"field": "y", "type": "quantitative", "axis": null}, "text": {"field": "t"}}},
  {"data": {"name": "alphas"}, "transform": [{"filter": "datum.p == 'd'"}],
   "mark": {"type": "text", "font": "Liberation Serif", "fontSize": 50, "fontStyle": "italic", "fontWeight": "bold", "color": "black", "align": "center", "baseline": "middle"},
   "encoding": {"x": {"field": "x", "type": "quantitative", "axis": null}, "y": {"field": "y", "type": "quantitative", "axis": null}, "text": {"field": "t"}}},
  {"data": {"name": "alphas"}, "transform": [{"filter": "datum.p == 'd'"}],
   "mark": {"type": "text", "font": "Liberation Serif", "fontSize": 32, "fontWeight": "bold", "color": "black", "align": "center", "baseline": "middle", "dx": 24, "dy": 13},
   "encoding": {"x": {"field": "x", "type": "quantitative", "axis": null}, "y": {"field": "y", "type": "quantitative", "axis": null}, "text": {"field": "sub"}}}
 ]}
], "spacing": 560, "resolve": {"scale": {"color": "independent", "strokeDash": "independent"}, "legend": {"color": "independent", "strokeDash": "independent"}}},
{"width": 1298, "height": 962, "title": {"text": "(e) CaO-12%", "offset": 30},
 "resolve": {"axis": {"x": "independent", "y": "independent"}},
 "layer": [
  {"data": {"name": "curves"}, "transform": [{"filter": "datum.p == 'e'"}],
   "mark": {"type": "line", "strokeWidth": 8, "interpolate": "monotone"},
   "encoding": {
    "x": {"field": "x", "type": "quantitative", "scale": {"domain": [-0.05, 0.8], "nice": false, "zero": false}, "axis": {"values": [0,0.15,0.3,0.45,0.6,0.75], "format": ".2f", "tickSize": -14, "labelPadding": 34, "labelFont": "Liberation Serif", "title": "α", "titlePadding": 34}},
    "y": {"field": "y", "type": "quantitative", "scale": {"domain": [0, 0.04], "nice": false, "zero": false}, "axis": {"values": [0,0.005,0.01,0.015,0.02,0.025,0.03,0.035,0.04], "format": ".3f", "tickSize": -14, "labelPadding": 35, "labelFont": "Liberation Serif", "title": "dα/dt", "titleFontWeight": "bold", "titlePadding": 12}},
    "color": {"field": "s", "type": "nominal", "scale": {"domain": ["NG","I","D","dα/dt"], "range": ["#777777","#F44040","#1170E8","#0DA85A"]}, "legend": {"title": null, "orient": "none", "legendX": 955, "legendY": 60, "labelFontStyle": {"expr": "datum.label == 'dα/dt' ? 'italic' : 'normal'"}}},
    "strokeDash": {"field": "s", "type": "nominal", "scale": {"domain": ["NG","I","D","dα/dt"], "range": [[40,36],[13,33],[47,19,13,19],[1,0]]}, "legend": {"title": null, "orient": "none", "legendX": 955, "legendY": 60, "labelFontStyle": {"expr": "datum.label == 'dα/dt' ? 'italic' : 'normal'"}}}
   }},
  {"data": {"name": "bounds"}, "transform": [{"filter": "datum.p == 'e'"}],
   "mark": {"type": "rule", "color": "black", "strokeWidth": 7, "strokeDash": [22, 10]},
   "encoding": {
    "x": {"field": "x", "type": "quantitative", "scale": {"domain": [-0.05, 0.8], "nice": false, "zero": false}, "axis": {"values": [0.075,0.225,0.375,0.525,0.675], "labels": false, "tickSize": -8, "domain": false, "title": null}},
    "y": {"field": "y0", "type": "quantitative", "scale": {"domain": [0, 0.04], "nice": false, "zero": false}, "axis": {"values": [0.0025,0.0075,0.0125,0.0175,0.0225,0.0275,0.0325,0.0375], "labels": false, "tickSize": -8, "domain": false, "title": null}},
    "y2": {"field": "y1"}
   }},
  {"data": {"name": "spans"}, "transform": [{"filter": "datum.p == 'e'"}],
   "mark": {"type": "rule", "color": "black", "strokeWidth": 2.5},
   "encoding": {"x": {"field": "x1", "type": "quantitative", "axis": null}, "x2": {"field": "x2"}, "y": {"field": "y", "type": "quantitative", "axis": null}}},
  {"data": {"name": "bounds"}, "transform": [{"filter": "datum.p == 'e'"}],
   "mark": {"type": "point", "shape": "M1,0L-1,-0.45L-1,0.45Z", "filled": true, "color": "black", "opacity": 1, "size": 784, "xOffset": -14},
   "encoding": {"x": {"field": "x", "type": "quantitative", "axis": null}, "y": {"field": "ya", "type": "quantitative", "axis": null}}},
  {"data": {"name": "bounds"}, "transform": [{"filter": "datum.p == 'e'"}],
   "mark": {"type": "point", "shape": "M-1,0L1,-0.45L1,0.45Z", "filled": true, "color": "black", "opacity": 1, "size": 784, "xOffset": 14},
   "encoding": {"x": {"field": "x", "type": "quantitative", "axis": null}, "y": {"field": "ya", "type": "quantitative", "axis": null}}},
  {"data": {"name": "labels"}, "transform": [{"filter": "datum.p == 'e'"}],
   "mark": {"type": "text", "font": "Liberation Serif", "fontSize": 48, "color": "black", "align": "center", "baseline": "middle"},
   "encoding": {"x": {"field": "x", "type": "quantitative", "axis": null}, "y": {"field": "y", "type": "quantitative", "axis": null}, "text": {"field": "t"}}},
  {"data": {"name": "alphas"}, "transform": [{"filter": "datum.p == 'e'"}],
   "mark": {"type": "text", "font": "Liberation Serif", "fontSize": 50, "fontStyle": "italic", "fontWeight": "bold", "color": "black", "align": "center", "baseline": "middle"},
   "encoding": {"x": {"field": "x", "type": "quantitative", "axis": null}, "y": {"field": "y", "type": "quantitative", "axis": null}, "text": {"field": "t"}}},
  {"data": {"name": "alphas"}, "transform": [{"filter": "datum.p == 'e'"}],
   "mark": {"type": "text", "font": "Liberation Serif", "fontSize": 32, "fontWeight": "bold", "color": "black", "align": "center", "baseline": "middle", "dx": 24, "dy": 13},
   "encoding": {"x": {"field": "x", "type": "quantitative", "axis": null}, "y": {"field": "y", "type": "quantitative", "axis": null}, "text": {"field": "sub"}}}
 ]}
],
"spacing": 5,
"center": true,
"resolve": {"scale": {"color": "independent", "strokeDash": "independent"}, "legend": {"color": "independent", "strokeDash": "independent"}},
"config": {
 "font": "Liberation Serif",
 "view": {"stroke": "black", "strokeWidth": 5},
 "style": {"guide-label": {"font": "Liberation Serif"}, "guide-title": {"font": "Liberation Serif"}},
 "axis": {"labelFont": "Liberation Serif", "labelFontSize": 43, "labelColor": "black", "titleFont": "Liberation Serif", "titleFontSize": 46, "titleFontStyle": "italic", "titleFontWeight": "normal", "titleColor": "black", "domainColor": "black", "domainWidth": 5, "tickColor": "black", "tickWidth": 4, "grid": false, "labelFlush": false, "labelOverlap": false},
 "legend": {"symbolType": "stroke", "symbolSize": 16384, "symbolStrokeWidth": 8, "labelFont": "Liberation Serif", "labelFontSize": 50, "labelColor": "black", "strokeColor": "black", "strokeWidth": 2.5, "fillColor": "white", "padding": 7, "rowPadding": 13, "clipHeight": 50, "labelOffset": 11, "labelLimit": 400},
 "title": {"orient": "bottom", "anchor": "middle", "frame": "bounds", "fontSize": 84, "font": "Liberation Serif", "fontWeight": "normal", "color": "black"}
}
}
